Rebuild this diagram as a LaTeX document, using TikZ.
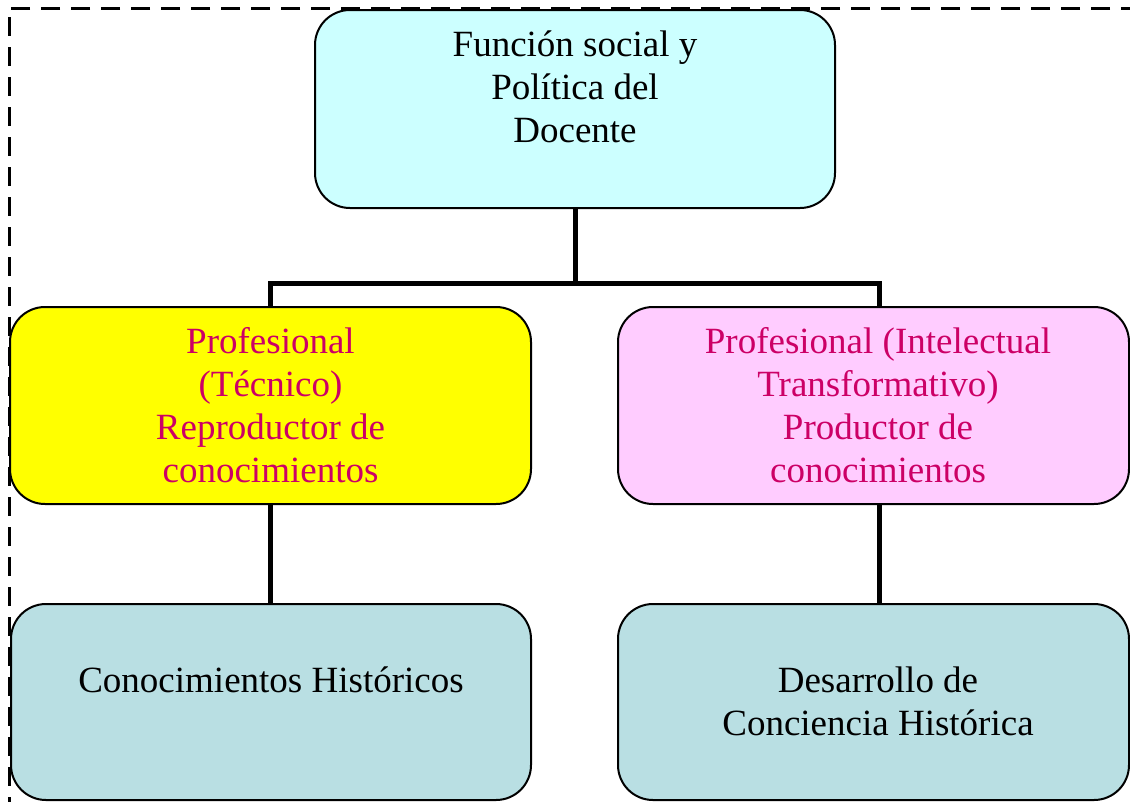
\documentclass[tikz,border=0pt]{standalone}
\usepackage{fontspec}
\setmainfont{Liberation Serif}
\definecolor{topfill}{HTML}{CCFFFF}
\definecolor{pinkfill}{HTML}{FFCCFF}
\definecolor{botfill}{HTML}{B9DFE3}
\definecolor{magtext}{HTML}{CC0066}
\definecolor{yelfill}{HTML}{FFFF00}
\begin{document}
\begin{tikzpicture}[x=1pt,y=1pt,
  box/.style={draw=black,line width=2pt,rounded corners=35pt,inner sep=0pt,outer sep=0pt},
  txt/.style={align=center,inner sep=0pt,font=\fontsize{37}{43}\selectfont},
  conn/.style={line width=5pt,line join=miter}]
\useasboundingbox (0,0) rectangle (1130,-801);
% frame
\draw[line width=3pt,dash pattern=on 19pt off 11pt] (1140,-8) -- (9,-8) -- (9,-810);
% boxes
\node[box,fill=topfill,minimum width=520pt,minimum height=198pt] (top) at (575,-109) {};
\node[box,fill=yelfill,minimum width=521pt,minimum height=197pt] (lm) at (270.5,-405.5) {};
\node[box,fill=pinkfill,minimum width=511pt,minimum height=197pt] (rm) at (873.5,-405.5) {};
\node[box,fill=botfill,minimum width=520pt,minimum height=196pt] (bl) at (271,-702) {};
\node[box,fill=botfill,minimum width=511pt,minimum height=196pt] (br) at (873.5,-702) {};
% texts
\node[txt] (ttop) at (575,-87) {Función social y\\Política del\\Docente};
\node[txt,text=magtext] (tlm) at (270.5,-405) {Profesional\\(Técnico)\\Reproductor de\\conocimientos};
\node[txt,text=magtext] (trm) at (878,-405) {Profesional (Intelectual\\Transformativo)\\Productor de\\conocimientos};
\node[txt] (tbl) at (271,-680) {Conocimientos Históricos};
\node[txt] (tbr) at (878,-701) {Desarrollo de\\Conciencia Histórica};
% connectors
\coordinate (j) at (575,-283);
\coordinate (rmtop) at ([xshift=5.5pt]rm.north);
\coordinate (rmbot) at ([xshift=5.5pt]rm.south);
\draw[conn] (top.south) -- (j);
\draw[conn] (lm.north) |- (j) -| (rmtop);
\draw[conn] (lm.south) -- (lm.south |- bl.north);
\draw[conn] (rmbot) -- (rmbot |- br.north);
\end{tikzpicture}
\end{document}
